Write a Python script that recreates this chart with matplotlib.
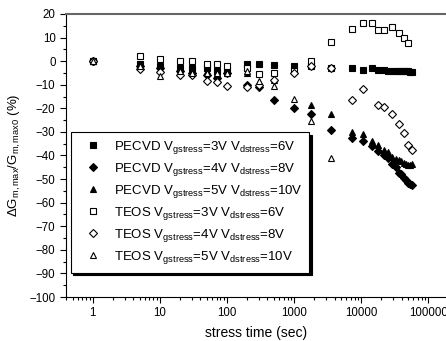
import matplotlib
matplotlib.use("Agg")
from matplotlib import pyplot as plt
from matplotlib.ticker import FixedLocator, LogLocator, NullFormatter, MultipleLocator
import numpy as np

plt.rcParams['font.family'] = ['Liberation Sans', 'DejaVu Sans']
plt.rcParams['mathtext.fontset'] = 'custom'
plt.rcParams['mathtext.rm'] = 'Liberation Sans'
plt.rcParams['mathtext.it'] = 'Liberation Sans'
plt.rcParams['mathtext.default'] = 'regular'

# stress times (sec)
t_early = [1, 5, 10, 20, 30, 50, 70, 100, 200, 300, 500, 1000, 1800, 3600]
t_pecvd_late = [7200, 10800, 14400, 18000, 21600, 25200, 28800, 32400, 36000,
                39600, 43200, 46800, 50400, 54000, 57600]

pecvd_3v = [0, -1, -2, -3, -3, -3, -4, -4, -1, -1, -1.5, -2, -2, -3,
            -2.8, -3.7, -2.8, -3.7, -3.8, -4, -4, -4, -4, -4, -4, -4, -4.2, -4.5, -4.7]
pecvd_4v = [0, -2, -3, -4, -5, -6, -7, -5, -10, -11, -16.5, -20, -22.5, -29,
            -32.5, -34, -36, -38, -40, -41, -43.5, -45, -47.5, -48, -49.5, -50.5, -51.5, -52, -52.5]
pecvd_5v = [0, -1, -2, -3, -3.5, -4, -5, -5, -5, -9, -8, np.nan, -18.5, -22.5,
            -30, -31, -34, -35.5, -37.5, -38.5, -40.5, -41.5, -42, -42.5, -43, -43.5, -44, -44, -43.5]

t_teos3_late = [7200, 10800, 14400, 18000, 21600, 28800, 36000, 43200, 50400]
teos_3v = [0, 2, 1, 0, 0, -1, -1, -2, -3, -5.5, -5, -4, 0, 8,
           13.5, 16.2, 16.2, 13.4, 13.4, 14.6, 11.8, 9.7, 7.6]

t_teos4_late = [7200, 10800, 18000, 21600, 28800, 36000, 43200, 50400, 57600]
teos_4v = [0, -3.5, -4.5, -6, -6, -8.5, -9, -10.5, -11, -10, -8, -5, -2, -3,
           -16.3, -12, -18.5, -19.3, -22.4, -26.7, -30.5, -35.6, -37.8]

teos_5v = [0, -2, -6.5, -4, -5, -5, -5, -5, -4, -8.5, -10.5, -16, -25.5, -41]

labels = [
    r"PECVD V$_{gstress}$=3V V$_{dstress}$=6V",
    r"PECVD V$_{gstress}$=4V V$_{dstress}$=8V",
    r"PECVD V$_{gstress}$=5V V$_{dstress}$=10V",
    r"TEOS V$_{gstress}$=3V V$_{dstress}$=6V",
    r"TEOS V$_{gstress}$=4V V$_{dstress}$=8V",
    r"TEOS V$_{gstress}$=5V V$_{dstress}$=10V",
]

fig = plt.figure(figsize=(4.46, 3.41), dpi=100)
ax = fig.add_axes([66 / 446, 1 - 297 / 341, 1 - 66 / 446, (297 - 14) / 341])

series = [
    (t_early + t_pecvd_late, pecvd_3v, 's', 'black', 4.2),
    (t_early + t_pecvd_late, pecvd_4v, 'D', 'black', 4.2),
    (t_early + t_pecvd_late, pecvd_5v, '^', 'black', 5.0),
    (t_early + t_teos3_late, teos_3v, 's', 'white', 4.2),
    (t_early + t_teos4_late, teos_4v, 'D', 'white', 4.2),
    (t_early, teos_5v, '^', 'white', 5.0),
]
for (x, y, m, fc, ms), lab in zip(series, labels):
    ax.plot(x, y, linestyle='none', marker=m, markersize=ms, markerfacecolor=fc,
            markeredgecolor='black', markeredgewidth=0.8, label=lab)

ax.set_xscale('log')
ax.set_xlim(0.4, 183000)
ax.set_ylim(-100, 20)
ax.xaxis.set_major_locator(FixedLocator([1, 10, 100, 1000, 10000, 100000]))
ax.set_xticklabels(['1', '10', '100', '1000', '10000', '100000'])
ax.xaxis.set_minor_locator(LogLocator(base=10, subs=np.arange(2, 10)))
ax.xaxis.set_minor_formatter(NullFormatter())
ax.yaxis.set_major_locator(MultipleLocator(10))
ax.yaxis.set_minor_locator(MultipleLocator(5))
ax.tick_params(which='both', direction='out', top=False, right=False, labelsize=8.3)
ax.tick_params(which='major', length=4, width=0.8)
ax.tick_params(which='minor', length=2, width=0.8)

ax.spines['right'].set_visible(False)
ax.spines['top'].set_color('#666666')
ax.spines['top'].set_linewidth(1.5)

ax.set_xlabel('stress time (sec)', fontsize=10, labelpad=5)
ax.set_ylabel(r'$\Delta$G$_{m,max}$/G$_{m,max0}$ (%)', fontsize=9.5, labelpad=5)

leg = ax.legend(loc='upper left', bbox_to_anchor=(0.012, 0.582), fontsize=9.5,
                frameon=True, fancybox=False, framealpha=1, edgecolor='black',
                shadow={'color': 'black', 'alpha': 1}, labelspacing=0.38,
                handletextpad=0.4, borderpad=0.5, handlelength=2.4,
                borderaxespad=0)
leg.get_frame().set_linewidth(0.8)

plt.savefig('out.png', dpi=100)
